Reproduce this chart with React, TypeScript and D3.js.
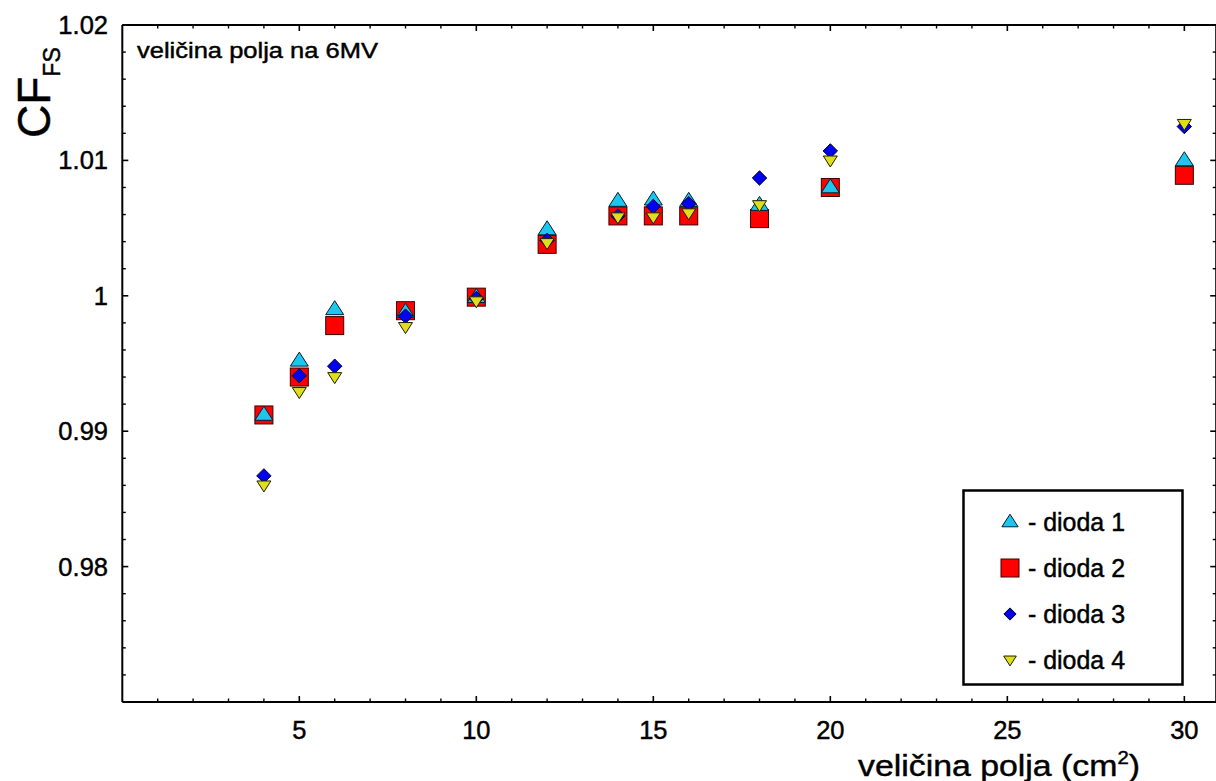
import React from "react";
import * as d3 from "d3";

const fieldSizes = [4, 5, 6, 8, 10, 12, 14, 15, 16, 18, 20, 30];
const dioda1 = [0.9912, 0.9952, 0.999, 0.9988, 0.9999, 1.0049, 1.007, 1.0071, 1.007, 1.0067, 1.008, 1.01];
const dioda2 = [0.9912, 0.994, 0.9978, 0.9989, 0.9999, 1.0038, 1.0059, 1.0059, 1.0059, 1.0057, 1.008, 1.0089];
const dioda3 = [0.9867, 0.9941, 0.9948, 0.9985, 0.9998, 1.0041, 1.0059, 1.0066, 1.0068, 1.0087, 1.0107, 1.0125];
const dioda4 = [0.986, 0.9929, 0.994, 0.9977, 0.9996, 1.0039, 1.0058, 1.0058, 1.0061, 1.0067, 1.01, 1.0127];
const xMajorTicks = [5, 10, 15, 20, 25, 30];
const yMajorTicks = [0.98, 0.99, 1, 1.01, 1.02];
const yTickLabels = ["0.98", "0.99", "1", "1.01", "1.02"];
const legendLabels = ["- dioda 1", "- dioda 2", "- dioda 3", "- dioda 4"];

const W = 1216;
const H = 781;
const L = 122.3, R = 1216.2, T = 25, B = 702;
const FONT = "'Liberation Sans', Arial, sans-serif";
const TXT = { stroke: "#000", strokeWidth: 0.45 };

const COLORS = { tri: "#1cc6ee", sq: "#ff0000", dia: "#0000ee", down: "#dede1c" };

function Marker({ kind, x, y, s = 1 }: { kind: string; x: number; y: number; s?: number }) {
  if (kind === "sq") {
    const h = 9 * s;
    return <rect x={x - h} y={y - h} width={2 * h} height={2 * h} fill={COLORS.sq} stroke="#3a0000" strokeWidth={1} />;
  }
  if (kind === "tri") {
    const w = 9 * s, h = 14 * s;
    const p = `M${x},${y - h * 0.62} L${x + w},${y + h * 0.38} L${x - w},${y + h * 0.38} Z`;
    return <path d={p} fill={COLORS.tri} stroke="#002030" strokeWidth={1} />;
  }
  if (kind === "dia") {
    const r = 7.2 * s;
    const p = `M${x},${y - r} L${x + r},${y} L${x},${y + r} L${x - r},${y} Z`;
    return <path d={p} fill={COLORS.dia} stroke="#000030" strokeWidth={1} />;
  }
  const w = 7 * s, h = 11 * s;
  const p = `M${x - w},${y - h * 0.4} L${x + w},${y - h * 0.4} L${x},${y + h * 0.6} Z`;
  return <path d={p} fill={COLORS.down} stroke="#202000" strokeWidth={1} />;
}

export default function App() {
  const x = d3.scaleLinear().domain([0, 30.9]).range([L, R]);
  const y = d3.scaleLinear().domain([0.97, 1.02]).range([B, T]);

  const xMinor = d3.range(1, 31).filter((v) => v % 5 !== 0);
  const yMinor = d3.range(0, 26).map((i) => 0.97 + i * 0.002).filter((v) => Math.abs(Math.round(v * 100) - v * 100) > 1e-6);

  const series = [
    { kind: "sq", vals: dioda2 },
    { kind: "tri", vals: dioda1 },
    { kind: "dia", vals: dioda3 },
    { kind: "down", vals: dioda4 },
  ];
  const legendKinds = ["tri", "sq", "dia", "down"];
  const legendScale = [0.9, 1, 0.85, 0.9];

  const sw = 2;
  return (
    <div style={{ position: "absolute", left: 0, top: 0 }}>
      <svg width={W} height={H} style={{ display: "block", background: "#fff" }} fontFamily={FONT}>
        {/* frame */}
        <line x1={L} x2={L} y1={T} y2={B} stroke="#000" strokeWidth={sw} />
        <line x1={L} x2={R} y1={B} y2={B} stroke="#000" strokeWidth={sw} />
        <line x1={L} x2={R} y1={T} y2={T} stroke="#000" strokeWidth={sw} />
        <line x1={R} x2={R} y1={T} y2={B} stroke="#000" strokeWidth={sw} />
        {/* x ticks */}
        {xMajorTicks.map((v) => (
          <g key={"xm" + v}>
            <line x1={x(v)} x2={x(v)} y1={B} y2={B - 6} stroke="#000" strokeWidth={1.6} />
            <line x1={x(v)} x2={x(v)} y1={T} y2={T + 6} stroke="#000" strokeWidth={1.6} />
            <text x={x(v)} y={739} textAnchor="middle" fontSize={25.5} {...TXT}>{v}</text>
          </g>
        ))}
        {xMinor.map((v) => (
          <g key={"xn" + v}>
            <line x1={x(v)} x2={x(v)} y1={B} y2={B - 3.5} stroke="#000" strokeWidth={1.4} />
            <line x1={x(v)} x2={x(v)} y1={T} y2={T + 3.5} stroke="#000" strokeWidth={1.4} />
          </g>
        ))}
        {/* y ticks */}
        {yMajorTicks.map((v, i) => (
          <g key={"ym" + v}>
            <line x1={L} x2={L + 6} y1={y(v)} y2={y(v)} stroke="#000" strokeWidth={1.6} />
            <line x1={R} x2={R - 6} y1={y(v)} y2={y(v)} stroke="#000" strokeWidth={1.6} />
            <text x={108} y={y(v) + 9} textAnchor="end" fontSize={25.5} {...TXT}>{yTickLabels[i]}</text>
          </g>
        ))}
        {yMinor.map((v, i) => (
          <g key={"yn" + i}>
            <line x1={L} x2={L + 3.5} y1={y(v)} y2={y(v)} stroke="#000" strokeWidth={1.4} />
            <line x1={R} x2={R - 3.5} y1={y(v)} y2={y(v)} stroke="#000" strokeWidth={1.4} />
          </g>
        ))}
        {/* axis titles */}
        <text x={858} y={776} fontSize={30} {...TXT} textLength={282} lengthAdjust="spacingAndGlyphs">
          veličina polja (cm<tspan dy={-12} fontSize={18}>2</tspan><tspan dy={12}>)</tspan>
        </text>
        <text transform="translate(50,138) rotate(-90)" fontSize={46} {...TXT}>
          CF<tspan dy={10} fontSize={23}>FS</tspan>
        </text>
        <text x={137} y={58} fontSize={22} {...TXT} textLength={241} lengthAdjust="spacingAndGlyphs">veličina polja na 6MV</text>
        {/* data */}
        {series.map((s) => (
          <g key={s.kind}>
            {fieldSizes.map((fs, i) => (
              <Marker key={i} kind={s.kind} x={x(fs)} y={y(s.vals[i])} />
            ))}
          </g>
        ))}
        {/* legend */}
        <rect x={963.5} y={490.5} width={219} height={194} fill="#fff" stroke="#000" strokeWidth={2.5} />
        {legendLabels.map((lab, i) => (
          <g key={lab}>
            <Marker kind={legendKinds[i]} x={1010} y={522 + i * 46} s={legendScale[i]} />
            <text x={1028} y={531 + i * 46} fontSize={25} {...TXT} textLength={97} lengthAdjust="spacingAndGlyphs">{lab}</text>
          </g>
        ))}
      </svg>
    </div>
  );
}
